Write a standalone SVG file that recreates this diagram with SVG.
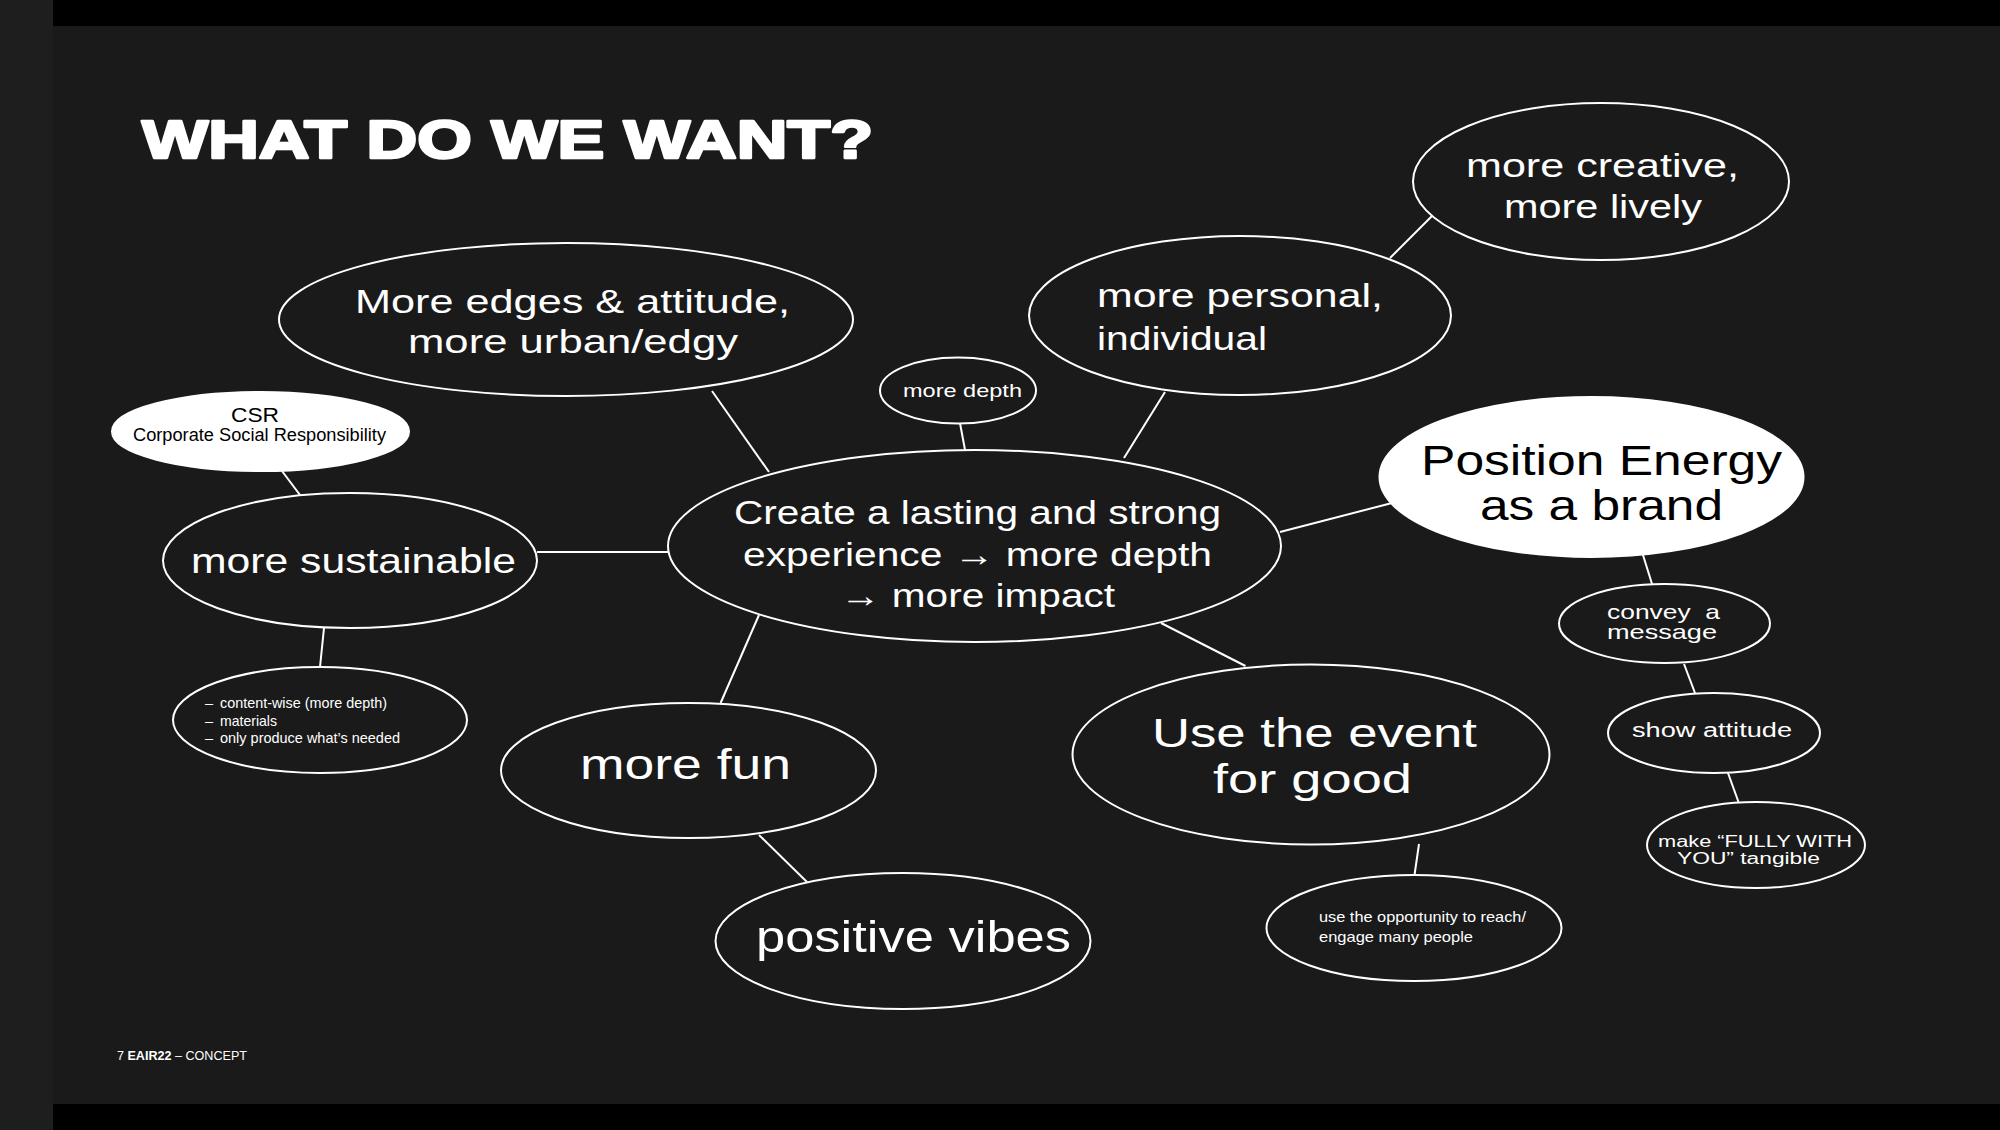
<svg xmlns="http://www.w3.org/2000/svg" width="2000" height="1130" viewBox="0 0 2000 1130">
<style>
  .t{font-family:"Liberation Sans",Arial,sans-serif;fill:#ffffff;}
  .k{font-family:"Liberation Sans",Arial,sans-serif;fill:#000000;}
  .node{fill:#1a1a1a;stroke:#ffffff;stroke-width:2;}
  .wnode{fill:#ffffff;stroke:#ffffff;stroke-width:2;}
  .conn line{stroke:#ffffff;stroke-width:2;}
</style>
<rect x="0" y="0" width="2000" height="1130" fill="#1a1a1a"/>
<rect x="0" y="0" width="53" height="1130" fill="#1e1e1e"/>
<rect x="53" y="0" width="1947" height="26" fill="#000000"/>
<rect x="53" y="1104" width="1947" height="26" fill="#000000"/>

<text class="t" x="142" y="158" font-size="54" font-weight="900" stroke="#ffffff" stroke-width="2.6" stroke-linejoin="round" textLength="731" lengthAdjust="spacingAndGlyphs">WHAT DO WE WANT?</text>

<g id="connectors" class="conn">
  <line x1="712" y1="391" x2="769" y2="472"/>
  <line x1="960" y1="423" x2="965" y2="450"/>
  <line x1="1165" y1="392" x2="1124" y2="458"/>
  <line x1="1390" y1="258" x2="1432" y2="216"/>
  <line x1="1280" y1="532" x2="1392" y2="503"/>
  <line x1="1643" y1="555" x2="1652" y2="584"/>
  <line x1="1684" y1="664" x2="1695" y2="693"/>
  <line x1="1728" y1="773" x2="1738.5" y2="802"/>
  <line x1="1161" y1="623" x2="1245.5" y2="666"/>
  <line x1="1419" y1="844" x2="1414.5" y2="875"/>
  <line x1="759" y1="615" x2="720.6" y2="703"/>
  <line x1="759" y1="835" x2="807" y2="882"/>
  <line x1="537" y1="552" x2="668" y2="552"/>
  <line x1="282" y1="471" x2="300" y2="495"/>
  <line x1="324" y1="628" x2="320" y2="667"/>
</g>

<g id="node-edges">
  <ellipse class="node" cx="566" cy="319.5" rx="287" ry="76.5"/>
  <text class="t" x="355" y="313" font-size="33.5" textLength="435" lengthAdjust="spacingAndGlyphs">More edges &amp; attitude,</text>
  <text class="t" x="408" y="353" font-size="33.5" textLength="330" lengthAdjust="spacingAndGlyphs">more urban/edgy</text>
</g>

<g id="node-creative">
  <ellipse class="node" cx="1601" cy="181.5" rx="188" ry="78.5"/>
  <text class="t" x="1466" y="177" font-size="34" textLength="273" lengthAdjust="spacingAndGlyphs">more creative,</text>
  <text class="t" x="1504" y="218" font-size="34" textLength="198" lengthAdjust="spacingAndGlyphs">more lively</text>
</g>

<g id="node-personal">
  <ellipse class="node" cx="1240" cy="315.5" rx="211" ry="79.5"/>
  <text class="t" x="1097" y="307" font-size="34" textLength="286" lengthAdjust="spacingAndGlyphs">more personal,</text>
  <text class="t" x="1097" y="350" font-size="34" textLength="170" lengthAdjust="spacingAndGlyphs">individual</text>
</g>

<g id="node-depth">
  <ellipse class="node" cx="958" cy="390.5" rx="78" ry="33"/>
  <text class="t" x="903" y="397" font-size="19" textLength="119" lengthAdjust="spacingAndGlyphs">more depth</text>
</g>

<g id="node-csr">
  <ellipse class="wnode" cx="260.5" cy="431.5" rx="148.5" ry="39.5"/>
  <text class="k" x="231" y="422" font-size="21" textLength="48" lengthAdjust="spacingAndGlyphs">CSR</text>
  <text class="k" x="133" y="441" font-size="17.5" textLength="253" lengthAdjust="spacingAndGlyphs">Corporate Social Responsibility</text>
</g>

<g id="node-sustainable">
  <ellipse class="node" cx="350" cy="560.5" rx="187" ry="67.5"/>
  <text class="t" x="191" y="573" font-size="35" textLength="325" lengthAdjust="spacingAndGlyphs">more sustainable</text>
</g>

<g id="node-bullets">
  <ellipse class="node" cx="320" cy="720" rx="147" ry="53"/>
  <text class="t" x="205" y="708" font-size="14.5">–</text>
  <text class="t" x="220" y="708" font-size="14.5" textLength="167" lengthAdjust="spacingAndGlyphs">content-wise (more depth)</text>
  <text class="t" x="205" y="726" font-size="14.5">–</text>
  <text class="t" x="220" y="726" font-size="14.5" textLength="57" lengthAdjust="spacingAndGlyphs">materials</text>
  <text class="t" x="205" y="743" font-size="14.5">–</text>
  <text class="t" x="220" y="743" font-size="14.5" textLength="180" lengthAdjust="spacingAndGlyphs">only produce what’s needed</text>
</g>

<g id="node-central">
  <ellipse class="node" cx="974.5" cy="546" rx="306.5" ry="96"/>
  <text class="t" x="734" y="524" font-size="33.5" textLength="487" lengthAdjust="spacingAndGlyphs">Create a lasting and strong</text>
  <text class="t" x="743" y="566" font-size="33.5" textLength="469" lengthAdjust="spacingAndGlyphs">experience → more depth</text>
  <text class="t" x="840" y="607" font-size="33.5" textLength="275" lengthAdjust="spacingAndGlyphs">→ more impact</text>
</g>

<g id="node-position">
  <ellipse class="wnode" cx="1591.5" cy="477" rx="212" ry="80"/>
  <text class="k" x="1421" y="475" font-size="42" textLength="361" lengthAdjust="spacingAndGlyphs">Position Energy</text>
  <text class="k" x="1480" y="520" font-size="42" textLength="243" lengthAdjust="spacingAndGlyphs">as a brand</text>
</g>

<g id="node-convey">
  <ellipse class="node" cx="1664.5" cy="623.5" rx="105.5" ry="39.5"/>
  <text class="t" x="1607" y="619" font-size="21" textLength="113" lengthAdjust="spacingAndGlyphs">convey&#160; a</text>
  <text class="t" x="1607" y="639" font-size="21" textLength="110" lengthAdjust="spacingAndGlyphs">message</text>
</g>

<g id="node-show">
  <ellipse class="node" cx="1714" cy="733" rx="106" ry="40"/>
  <text class="t" x="1632" y="737" font-size="20" textLength="160" lengthAdjust="spacingAndGlyphs">show attitude</text>
</g>

<g id="node-make">
  <ellipse class="node" cx="1756" cy="845" rx="109" ry="43"/>
  <text class="t" x="1658" y="847" font-size="16" textLength="194" lengthAdjust="spacingAndGlyphs">make “FULLY WITH</text>
  <text class="t" x="1677" y="864" font-size="16" textLength="143" lengthAdjust="spacingAndGlyphs">YOU” tangible</text>
</g>

<g id="node-event">
  <ellipse class="node" cx="1311" cy="754.5" rx="238.5" ry="90"/>
  <text class="t" x="1152" y="747" font-size="41" textLength="325" lengthAdjust="spacingAndGlyphs">Use the event</text>
  <text class="t" x="1213" y="793" font-size="41" textLength="199" lengthAdjust="spacingAndGlyphs">for good</text>
</g>

<g id="node-opportunity">
  <ellipse class="node" cx="1414" cy="928" rx="147.5" ry="53"/>
  <text class="t" x="1319" y="922" font-size="14.5" textLength="207" lengthAdjust="spacingAndGlyphs">use the opportunity to reach/</text>
  <text class="t" x="1319" y="942" font-size="14.5" textLength="154" lengthAdjust="spacingAndGlyphs">engage many people</text>
</g>

<g id="node-fun">
  <ellipse class="node" cx="688.5" cy="770.5" rx="187.5" ry="67.5"/>
  <text class="t" x="580" y="779" font-size="43" textLength="211" lengthAdjust="spacingAndGlyphs">more fun</text>
</g>

<g id="node-vibes">
  <ellipse class="node" cx="903" cy="941" rx="187.5" ry="68"/>
  <text class="t" x="756" y="952" font-size="44" textLength="315" lengthAdjust="spacingAndGlyphs">positive vibes</text>
</g>

<text class="t" x="117" y="1060" font-size="12.5" fill="#e6e6e6" textLength="130" lengthAdjust="spacingAndGlyphs">7 <tspan font-weight="bold">EAIR22</tspan> – CONCEPT</text>
</svg>
